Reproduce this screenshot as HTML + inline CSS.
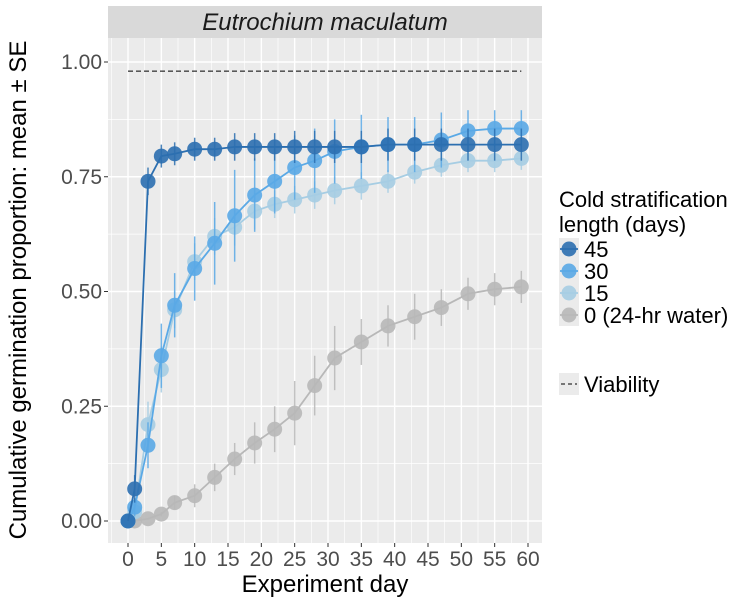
<!DOCTYPE html>
<html><head><meta charset="utf-8">
<style>body{margin:0;background:#fff;font-family:"Liberation Sans",sans-serif}</style></head>
<body>
<svg id="chart" width="754" height="603" xmlns="http://www.w3.org/2000/svg"></svg>
<script>
const days=[0,1,3,5,7,10,13,16,19,22,25,28,31,35,39,43,47,51,55,59];
const s45=[0,0.07,0.74,0.795,0.80,0.81,0.81,0.815,0.815,0.815,0.815,0.815,0.815,0.815,0.82,0.82,0.82,0.82,0.82,0.82];
const s45se=[0,0.03,0.03,0.025,0.025,0.025,0.025,0.03,0.03,0.03,0.035,0.035,0.035,0.035,0.035,0.035,0.035,0.035,0.035,0.035];
const s30=[0,0.03,0.165,0.36,0.47,0.55,0.605,0.665,0.71,0.74,0.77,0.785,0.805,0.815,0.82,0.82,0.83,0.85,0.855,0.855];
const s30se=[0,0.02,0.05,0.07,0.07,0.07,0.09,0.1,0.08,0.07,0.07,0.07,0.07,0.07,0.06,0.06,0.06,0.045,0.04,0.04];
const s15=[0,0.02,0.21,0.33,0.46,0.565,0.62,0.64,0.675,0.69,0.70,0.71,0.72,0.73,0.74,0.76,0.775,0.785,0.785,0.79];
const s15se=[0,0.015,0.05,0.05,0.04,0.04,0.04,0.04,0.04,0.03,0.03,0.03,0.03,0.03,0.025,0.025,0.025,0.025,0.025,0.025];
const s0=[0,0,0.005,0.015,0.04,0.055,0.095,0.135,0.17,0.20,0.235,0.295,0.355,0.39,0.425,0.445,0.465,0.495,0.505,0.51];
const s0se=[0,0,0,0.005,0.015,0.025,0.03,0.035,0.045,0.05,0.07,0.065,0.07,0.05,0.045,0.05,0.04,0.035,0.035,0.035];
const xTicks=[0,5,10,15,20,25,30,35,40,45,50,55,60];
const yTicks=[0,0.25,0.5,0.75,1.0];
const yTickLabels=["0.00","0.25","0.50","0.75","1.00"];
const viability=0.98;
const svg=document.getElementById('chart');
const NS='http://www.w3.org/2000/svg';
const L=108,R=542,T=38,B=543;
const xS=d=>128+(d)*(400/60);
const yS=v=>521-v*459;
function el(tag,attrs,parent){const e=document.createElementNS(NS,tag);for(const k in attrs)e.setAttribute(k,attrs[k]);(parent||svg).appendChild(e);return e;}
let e=el('rect',{x:L,y:T,width:R-L,height:B-T,fill:'#ebebeb'});

e=el('rect',{x:L,y:6,width:R-L,height:32,fill:'#d9d9d9'});

e=el('text',{x:(L+R)/2,y:30,'text-anchor':'middle','font-size':24,'font-style':'italic',fill:'#1a1a1a'});e.textContent='Eutrochium maculatum';

for(let d=-2.5;d<=62;d+=2.5){const x=xS(d);if(x<L||x>R)continue;const major=(d%5===0);
 e=el('line',{x1:x,x2:x,y1:T,y2:B,stroke:'#fff','stroke-width':major?1.4:0.7});
 }
for(let v=-0.125;v<=1.05;v+=0.125){const y=yS(v);if(y<T||y>B)continue;const major=Math.abs(v/0.25-Math.round(v/0.25))<1e-6;
 e=el('line',{x1:L,x2:R,y1:y,y2:y,stroke:'#fff','stroke-width':major?1.4:0.7});
 }
xTicks.forEach(t=>{const x=xS(t);
 e=el('line',{x1:x,x2:x,y1:B,y2:B+4,stroke:'#333'});
 e=el('text',{x:x,y:566,'text-anchor':'middle','font-size':21,fill:'#4d4d4d'});e.textContent=t;
 });
yTicks.forEach((t,i)=>{const y=yS(t);
 e=el('line',{x1:L-4,x2:L,y1:y,y2:y,stroke:'#333'});
 e=el('text',{x:L-6,y:y+7,'text-anchor':'end','font-size':21,fill:'#4d4d4d'});e.textContent=yTickLabels[i];
 });
e=el('text',{x:(L+R)/2,y:592,'text-anchor':'middle','font-size':24,fill:'#000'});e.textContent='Experiment day';

e=el('text',{x:0,y:0,transform:'translate(26,290) rotate(-90)','text-anchor':'middle','font-size':24,fill:'#000'});e.textContent='Cumulative germination proportion: mean ± SE';

e=el('line',{x1:xS(0),x2:xS(59),y1:yS(viability),y2:yS(viability),stroke:'#000','stroke-dasharray':'5,3','stroke-width':1});

const series=[[s0,s0se,'#b8b8b8','series-0'],[s15,s15se,'#a6cde3','series-15'],[s30,s30se,'#5aa9e6','series-30'],[s45,s45se,'#2c6fb0','series-45']];
series.forEach(([v,se,c,name])=>{
 const g=el('g',{});
 days.forEach((d,i)=>{if(se[i]>0){const l=el('line',{x1:xS(d),x2:xS(d),y1:yS(v[i]-se[i]),y2:yS(v[i]+se[i]),stroke:c,'stroke-width':1.5,opacity:0.85},g);
  }});
 const p=el('polyline',{points:days.map((d,i)=>xS(d)+','+yS(v[i])).join(' '),fill:'none',stroke:c,'stroke-width':1.8},g);
 
 days.forEach((d,i)=>{const pt=el('circle',{cx:xS(d),cy:yS(v[i]),r:7.5,fill:c,opacity:0.9},g);
  });
});
const lg=el('g',{});
e=el('text',{x:559,y:207,'font-size':22,fill:'#000'},lg);e.textContent='Cold stratification';
e=el('text',{x:559,y:232,'font-size':22,fill:'#000'},lg);e.textContent='length (days)';
const legLabels=['45','30','15','0 (24-hr water)'];const legColors=['#2c6fb0','#5aa9e6','#a6cde3','#b8b8b8'];
legLabels.forEach((t,i)=>{const y=249+i*22;
 const k=el('rect',{x:559,y:y-11,width:20,height:22,fill:'#ebebeb'},lg);
 el('line',{x1:560,x2:578,y1:y,y2:y,stroke:legColors[i],'stroke-width':1.8},lg);
 el('circle',{cx:569,cy:y,r:7.5,fill:legColors[i],opacity:0.9},lg);
 const tx=el('text',{x:584,y:y+8,'font-size':22,fill:'#000'},lg);tx.textContent=t;});
e=el('rect',{x:559,y:373,width:20,height:22,fill:'#ebebeb'},lg);
el('line',{x1:561,x2:577,y1:384,y2:384,stroke:'#000','stroke-dasharray':'4,3'},lg);
e=el('text',{x:584,y:392,'font-size':22,fill:'#000'},lg);e.textContent='Viability';
</script>
</body></html>
